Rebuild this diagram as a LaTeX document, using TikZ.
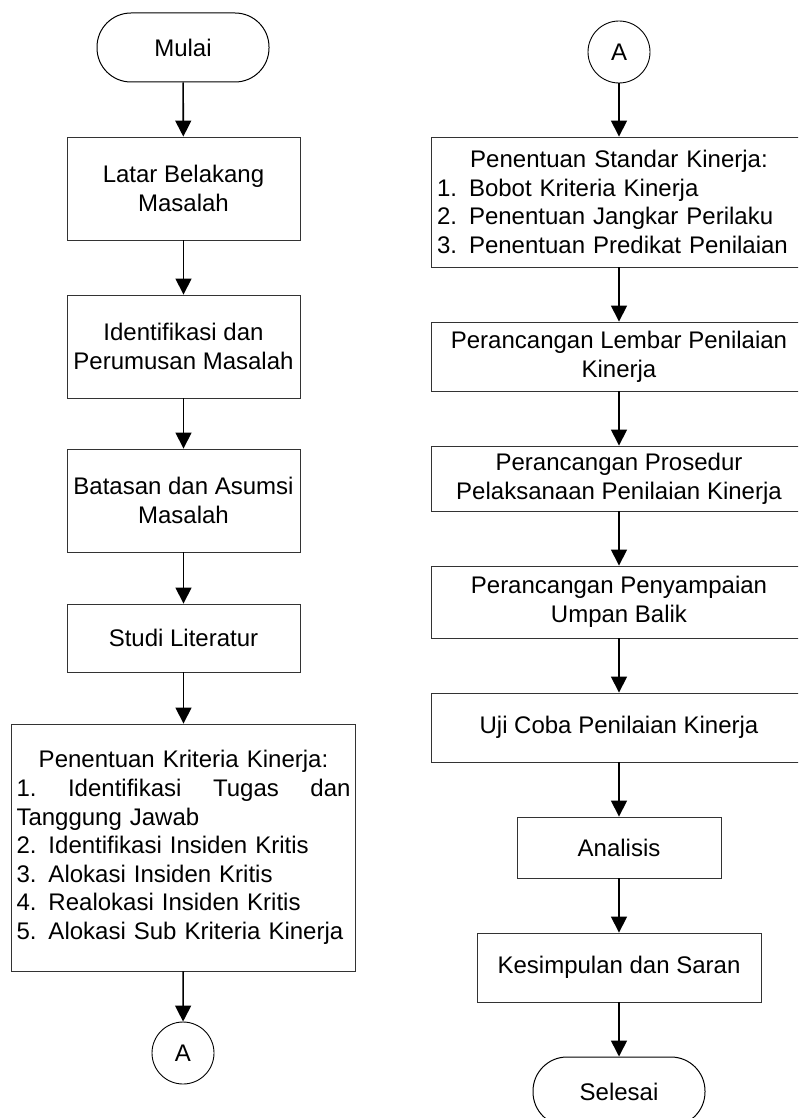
\documentclass[tikz,border=0pt]{standalone}
\usepackage{fontspec}
\setmainfont{Liberation Sans}
\usetikzlibrary{arrows.meta}
\begin{document}
\begin{tikzpicture}[x=1pt,y=-1pt,
  every node/.style={font=\fontsize{24pt}{28.6pt}\selectfont, text=black},
  box/.style={draw=black!80, line width=0.9pt, rectangle, inner sep=0pt, align=center, fill=white},
  term/.style={draw=black, line width=1pt, rectangle, rounded corners=34pt, inner sep=0pt, align=center, minimum width=172pt, minimum height=69pt},
  conn/.style={draw=black, line width=0.9pt, circle, inner sep=0pt, minimum size=62pt},
  arr/.style={line width=1.6pt, -{Triangle[width=16pt,length=16pt]}}
]
\useasboundingbox (0,0) rectangle (798,1118);
\clip (0,0) rectangle (798,1118);
\fill[white] (0,0) rectangle (798,1118);

% left column
\node[term] (mulai) at (183,47.5) {Mulai};
\node[box, minimum width=233pt, minimum height=103pt] (latar) at (183.5,188.5) {Latar Belakang\\Masalah};
\node[box, minimum width=233pt, minimum height=103pt] (ident) at (183.5,346.5) {Identifikasi dan\\Perumusan Masalah};
\node[box, minimum width=233pt, minimum height=103pt] (batas) at (183.5,500.5) {Batasan dan Asumsi\\Masalah};
\node[box, minimum width=233pt, minimum height=68pt] (studi) at (183.5,638) {Studi Literatur};
\node[box, minimum width=344pt, minimum height=247pt, text width=334pt, inner xsep=5pt, align=left] (krit) at (183.5,847.5)
  {\hfill Penentuan Kriteria Kinerja:\hfill\null\\
   1.\hfill Identifikasi\hfill Tugas\hfill dan\\
   Tanggung Jawab\\
   2. Identifikasi Insiden Kritis\\
   3. Alokasi Insiden Kritis\\
   4. Realokasi Insiden Kritis\\
   5. Alokasi Sub Kriteria Kinerja};
\node[conn] (a1) at (183,1053) {A};

\draw[arr] (mulai) -- (latar);
\draw[arr] (latar) -- (ident);
\draw[arr] (ident) -- (batas);
\draw[arr] (batas) -- (studi);
\draw[arr] (studi) -- (krit);
\draw[arr] (krit) -- (a1);

% right column
\node[conn] (a2) at (619,52) {A};
\node[box, minimum width=376pt, minimum height=130pt, text width=364pt, inner xsep=6pt, align=left] (std) at (619,202)
  {\hfill Penentuan Standar Kinerja:\hfill\null\\
   1. Bobot Kriteria Kinerja\\
   2. Penentuan Jangkar Perilaku\\
   3. Penentuan Predikat Penilaian};
\node[box, minimum width=376pt, minimum height=69pt] (lembar) at (619,356.5) {Perancangan Lembar Penilaian\\Kinerja};
\node[box, minimum width=376pt, minimum height=65pt] (pros) at (619,478.5) {Perancangan Prosedur\\Pelaksanaan Penilaian Kinerja};
\node[box, minimum width=376pt, minimum height=72pt] (peny) at (619,602) {Perancangan Penyampaian\\Umpan Balik};
\node[box, minimum width=376pt, minimum height=69pt] (uji) at (619,727.5) {Uji Coba Penilaian Kinerja};
\node[box, minimum width=204pt, minimum height=61pt] (anal) at (619,847.5) {Analisis};
\node[box, minimum width=284pt, minimum height=69pt] (kes) at (619,967.5) {Kesimpulan dan Saran};
\node[term] (sel) at (619,1091.5) {Selesai};

\draw[arr] (a2) -- (std);
\draw[arr] (std) -- (lembar);
\draw[arr] (lembar) -- (pros);
\draw[arr] (pros) -- (peny);
\draw[arr] (peny) -- (uji);
\draw[arr] (uji) -- (anal);
\draw[arr] (anal) -- (kes);
\draw[arr] (kes) -- (sel);
\end{tikzpicture}
\end{document}
